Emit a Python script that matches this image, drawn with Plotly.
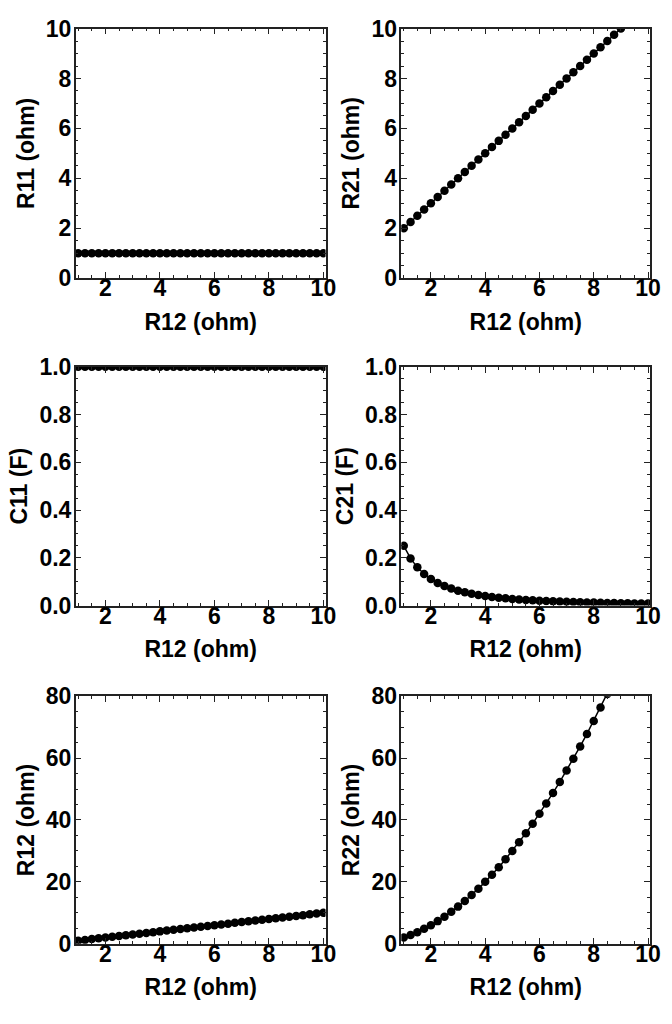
import plotly.graph_objects as go

# ---- data ----
r12 = [1.0, 1.25, 1.5, 1.75, 2.0, 2.25, 2.5, 2.75, 3.0, 3.25, 3.5, 3.75, 4.0,
       4.25, 4.5, 4.75, 5.0, 5.25, 5.5, 5.75, 6.0, 6.25, 6.5, 6.75, 7.0, 7.25,
       7.5, 7.75, 8.0, 8.25, 8.5, 8.75, 9.0, 9.25, 9.5, 9.75, 10.0]
r11 = [1.0] * 37
r21 = [2.0, 2.25, 2.5, 2.75, 3.0, 3.25, 3.5, 3.75, 4.0, 4.25, 4.5, 4.75, 5.0,
       5.25, 5.5, 5.75, 6.0, 6.25, 6.5, 6.75, 7.0, 7.25, 7.5, 7.75, 8.0, 8.25,
       8.5, 8.75, 9.0, 9.25, 9.5, 9.75, 10.0, 10.25, 10.5, 10.75, 11.0]
c11 = [1.0] * 37
c21 = [0.25, 0.1975, 0.16, 0.1322, 0.1111, 0.0947, 0.0816, 0.0711, 0.0625,
       0.0554, 0.0494, 0.0443, 0.04, 0.0363, 0.0331, 0.0302, 0.0278, 0.0256,
       0.0237, 0.0219, 0.0204, 0.019, 0.0178, 0.0166, 0.0156, 0.0147, 0.0138,
       0.0131, 0.0123, 0.0117, 0.0111, 0.0105, 0.01, 0.0095, 0.0091, 0.0087,
       0.0083]
r12_out = [1.0, 1.25, 1.5, 1.75, 2.0, 2.25, 2.5, 2.75, 3.0, 3.25, 3.5, 3.75, 4.0,
           4.25, 4.5, 4.75, 5.0, 5.25, 5.5, 5.75, 6.0, 6.25, 6.5, 6.75, 7.0, 7.25,
           7.5, 7.75, 8.0, 8.25, 8.5, 8.75, 9.0, 9.25, 9.5, 9.75, 10.0]
r22 = [2.0, 2.8125, 3.75, 4.8125, 6.0, 7.3125, 8.75, 10.3125, 12.0, 13.8125,
       15.75, 17.8125, 20.0, 22.3125, 24.75, 27.3125, 30.0, 32.8125, 35.75,
       38.8125, 42.0, 45.3125, 48.75, 52.3125, 56.0, 59.8125, 63.75, 67.8125,
       72.0, 76.3125, 80.75, 85.3125, 90.0, 94.8125, 99.75, 104.8125, 110.0]

x_title = "R12 (ohm)"
panels = [
    (r11, "R11 (ohm)", [0, 10], 2, 0.5),
    (r21, "R21 (ohm)", [0, 10], 2, 0.5),
    (c11, "C11 (F)", [0, 1], 0.2, 0.05),
    (c21, "C21 (F)", [0, 1], 0.2, 0.05),
    (r12_out, "R12 (ohm)", [0, 80], 20, 5),
    (r22, "R22 (ohm)", [0, 80], 20, 5),
]

W, H = 672, 1024
xdoms = [(77, 331), (408, 661)]
ydoms = [(16, 272), (363, 608), (701, 955)]

FONT = "Liberation Sans"
FS = 23
fig = go.Figure()
layout = dict(
    width=W, height=H, margin=dict(l=0, r=0, t=0, b=0),
    paper_bgcolor="white", plot_bgcolor="white", showlegend=False,
    font=dict(family=FONT, size=FS, color="black"),
)

for i, (yv, ytitle, yr, ydt, ymin) in enumerate(panels):
    row, col = divmod(i, 2)
    n = i + 1
    xa = "xaxis" if n == 1 else f"xaxis{n}"
    ya = "yaxis" if n == 1 else f"yaxis{n}"
    xref = "x" if n == 1 else f"x{n}"
    yref = "y" if n == 1 else f"y{n}"
    fig.add_trace(go.Scatter(
        x=r12, y=yv, mode="lines+markers", xaxis=xref, yaxis=yref,
        line=dict(color="black", width=1.5),
        marker=dict(color="black", size=8.5),
    ))
    x0, x1 = xdoms[col]
    y0, y1 = ydoms[row]
    common = dict(
        showline=True, mirror="ticks", linecolor="#222", linewidth=1.5,
        ticks="inside", ticklen=6, tickwidth=1.3, tickcolor="#222",
        showgrid=False, zeroline=False,
        tickfont=dict(family=FONT, size=FS, color="black", weight="bold"),
        title_font=dict(family=FONT, size=FS, color="black", weight="bold"),
    )
    layout[xa] = dict(
        common, domain=[x0 / W, x1 / W], anchor=yref,
        range=[0.91, 10.08], tick0=0, dtick=2, ticklabelstandoff=-11,
        minor=dict(ticks="inside", ticklen=3, dtick=0.5, tick0=0,
                   tickcolor="#222", tickwidth=1.2),
        title=dict(text="<b>" + x_title + "</b>", standoff=13),
    )
    ytickfmt = ".1f" if ydt < 1 else "d"
    layout[ya] = dict(
        common, domain=[1 - y1 / H, 1 - y0 / H], anchor=xref,
        range=yr, tick0=0, dtick=ydt, tickformat=ytickfmt,
        ticklabelstandoff=-2,
        minor=dict(ticks="inside", ticklen=3, dtick=ymin, tick0=0,
                   tickcolor="#222", tickwidth=1.2),
        title=dict(text="<b>" + ytitle + "</b>", standoff=5),
    )

fig.update_layout(**layout)
fig.write_html("out.html")
